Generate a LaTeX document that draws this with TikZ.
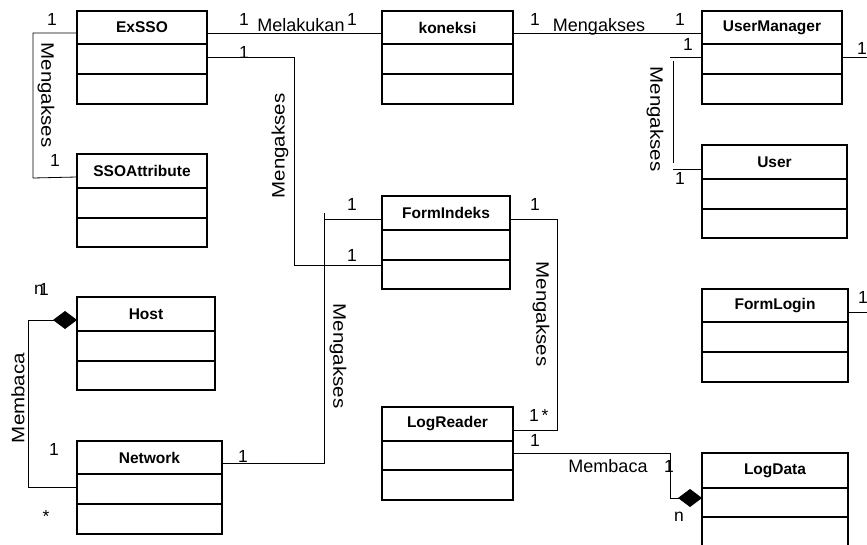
\documentclass[tikz,border=0pt]{standalone}
\usepackage{fontspec}
\setmainfont{Liberation Sans}
\usetikzlibrary{arrows.meta}
\newcommand\umlclass[8]{%
  \node[classbox, minimum width={(#4-#2)*1pt}, minimum height={(#5-#3)*1pt}, anchor=north west] (#1) at (#2,#3) {};
  \node[classname] (#1-name) at ({(#2+#4)/2},{(#3+#6)/2}) {#8};
  \draw[divider] (#1.west |- 0,#6) -- (#1.east |- 0,#6) (#1.west |- 0,#7) -- (#1.east |- 0,#7);
}
\begin{document}
\begin{tikzpicture}[x=1pt,y=-1pt,
  classbox/.style={draw, line width=1.2pt, inner sep=0pt, outer sep=0pt},
  classname/.style={font=\fontsize{15.5}{17}\selectfont\bfseries, inner sep=0pt},
  divider/.style={line width=1.2pt},
  conn/.style={line width=0.8pt},
  lbl/.style={font=\fontsize{18}{20}\selectfont, inner sep=0pt},
  vlbl/.style={lbl, xscale=1.14},
  mult/.style={font=\fontsize{17.5}{19}\selectfont, inner sep=0pt},
  comp/.style={-{Diamond[length=24pt,width=18pt]}}
]
\useasboundingbox (0,0) rectangle (867,545);
\clip (0,0) rectangle (867,545);

% classes
\umlclass{exsso}{77}{11}{207}{104}{44}{74}{ExSSO}
\umlclass{ssoattr}{77}{154}{207}{247}{188}{218}{SSOAttribute}
\umlclass{koneksi}{382}{11}{513}{104}{44}{74}{koneksi}
\umlclass{usermgr}{702}{11}{842}{104}{44}{74}{UserManager}
\umlclass{user}{702}{145}{847}{238}{179}{209}{User}
\umlclass{formindeks}{382}{196}{510}{289}{230}{260}{FormIndeks}
\umlclass{formlogin}{702}{289}{848}{382}{322}{352}{FormLogin}
\umlclass{host}{77}{297}{215}{390}{331}{361}{Host}
\umlclass{network}{77}{441}{222}{534}{474}{504}{Network}
\umlclass{logreader}{382}{407}{513}{500}{441}{470}{LogReader}
\umlclass{logdata}{702}{453}{848}{560}{488}{517}{LogData}

\coordinate (umend) at (867,57);
\coordinate (flend) at (867,312);

% connectors
\draw[conn] (exsso.west |- 0,33) -- (33,33) -- (33,178) -- (ssoattr.west |- 0,177);
\draw[conn] (exsso.east |- 0,33) -- (koneksi.west |- 0,33);
\draw[conn] (koneksi.east |- 0,33) -- (usermgr.west |- 0,33);
\draw[conn] (usermgr.west |- 0,57) -- (670,57) (673,61) -- (673,163) (673,169) -- (user.west |- 0,169);
\draw[conn] (usermgr.east |- 0,57) -- (umend);
\draw[conn] (formlogin.east |- 0,312) -- (flend);
\draw[conn] (exsso.east |- 0,57) -- (294,57) -- (294,265) -- (formindeks.west |- 0,265);
\draw[conn] (network.east |- 0,463) -- (324,463) -- (324,213) (324,219) -- (formindeks.west |- 0,219);
\draw[conn] (formindeks.east |- 0,219) -- (557,219) -- (557,431) (557,430) -- (logreader.east |- 0,430);
\draw[conn, comp] (logreader.east |- 0,453) -- (670,453) -- (670,498) -- (logdata.west |- 0,498);
\draw[conn, comp] (network.west |- 0,487) -- (28,487) -- (28,320) -- (host.west |- 0,320);

% labels
\node[rotate=-90, vlbl] (l1) at (46,95) {Mengakses};
\node[lbl, anchor=base] (l2) at (301,31.5) {Melakukan};
\node[lbl, anchor=base] (l3) at (599,31.5) {Mengakses};
\node[rotate=-90, vlbl] (l4) at (655,119) {Mengakses};
\node[rotate=90, vlbl] (l5) at (280,146) {Mengakses};
\node[rotate=-90, vlbl] (l6) at (541,314) {Mengakses};
\node[rotate=-90, vlbl] (l7) at (338,356) {Mengakses};
\node[lbl, anchor=base] (l8) at (608,472) {Membaca};
\node[rotate=90, vlbl] (l9) at (18,398) {Membaca};

% multiplicities
\node[mult] (m1) at (52,19) {1};
\node[mult] (m2) at (55,160) {1};
\node[mult] (m3) at (244,19) {1};
\node[mult] (m4) at (352,19) {1};
\node[mult] (m5) at (535,19) {1};
\node[mult] (m6) at (680,19) {1};
\node[mult] (m7) at (688,44) {1};
\node[mult] (m8) at (680,178) {1};
\node[mult] (m9) at (862,48) {1};
\node[mult] (m10) at (244,52) {1};
\node[mult] (m11) at (352,204) {1};
\node[mult] (m12) at (352,255) {1};
\node[mult] (m13) at (535,204) {1};
\node[mult] (m14) at (534,415) {1};
\node[mult] (m14b) at (545,415) {*};
\node[mult] (m15) at (535,440) {1};
\node[mult] (m16) at (243,456) {1};
\node[mult] (m17) at (669,466) {1};
\node[mult] (m18) at (679,517) {n};
\node[mult] (m19) at (863,297) {1};
\node[mult] (m20) at (39,290) {n};
\node[mult] (m21) at (44,289) {1};
\node[mult] (m22) at (54,449) {1};
\node[mult] (m23) at (46,516) {*};
\end{tikzpicture}
\end{document}
